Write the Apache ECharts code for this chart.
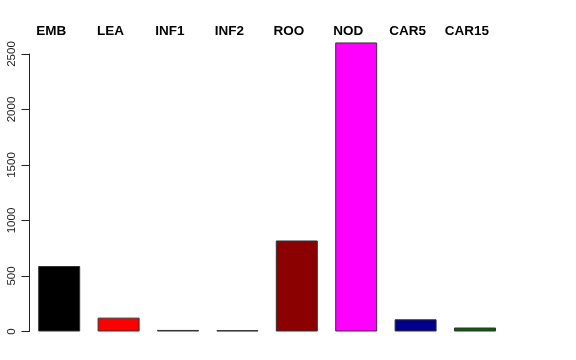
<!DOCTYPE html>
<html>
<head>
<meta charset="utf-8">
<script src="https://cdn.jsdelivr.net/npm/echarts@6/dist/echarts.min.js"></script>
<style>html,body{margin:0;padding:0;background:#fff;}#c{width:576px;height:360px;}</style>
</head>
<body>
<div id="c"></div>
<script>
const categories = ['EMB', 'LEA', 'INF1', 'INF2', 'ROO', 'NOD', 'CAR5', 'CAR15'];
const values = [590, 125, 14, 12, 820, 2604, 110, 36];
const colors = ['#000000', '#FF0000', '#0B3B0B', '#1E1E50', '#8B0000', '#FF00FF', '#00008B', '#006400'];
const yTicks = [0, 500, 1000, 1500, 2000, 2500];

const chart = echarts.init(document.getElementById('c'), null, {renderer: 'canvas'});
chart.setOption({
  animation: false,
  backgroundColor: '#ffffff',
  grid: {left: 29.5, top: 54, width: 475.2, height: 277.5, containLabel: false},
  xAxis: {
    type: 'category',
    position: 'top',
    data: categories,
    axisLine: {show: false},
    axisTick: {show: false},
    axisLabel: {
      show: true,
      margin: 16,
      fontFamily: 'Liberation Sans, Arial, sans-serif',
      fontWeight: 'bold',
      fontSize: 13.5,
      color: '#000',
      padding: [0, 16, 0, 0]
    }
  },
  yAxis: {
    type: 'value',
    min: 0,
    max: 2500,
    interval: 500,
    splitLine: {show: false},
    axisLine: {show: true, lineStyle: {color: '#222', width: 1}},
    axisTick: {show: true, length: 8, lineStyle: {color: '#222'}},
    axisLabel: {
      rotate: 90,
      margin: 12,
      fontFamily: 'Liberation Sans, Arial, sans-serif',
      fontSize: 11.5,
      color: '#222',
      formatter: v => (yTicks.indexOf(v) >= 0 ? String(v) : '')
    }
  },
  series: [{
    type: 'bar',
    clip: false,
    barWidth: 42,
    data: values.map((v, i) => ({value: v, itemStyle: {color: colors[i]}})),
    itemStyle: {borderColor: '#333', borderWidth: 1}
  }]
});
</script>
</body>
</html>
